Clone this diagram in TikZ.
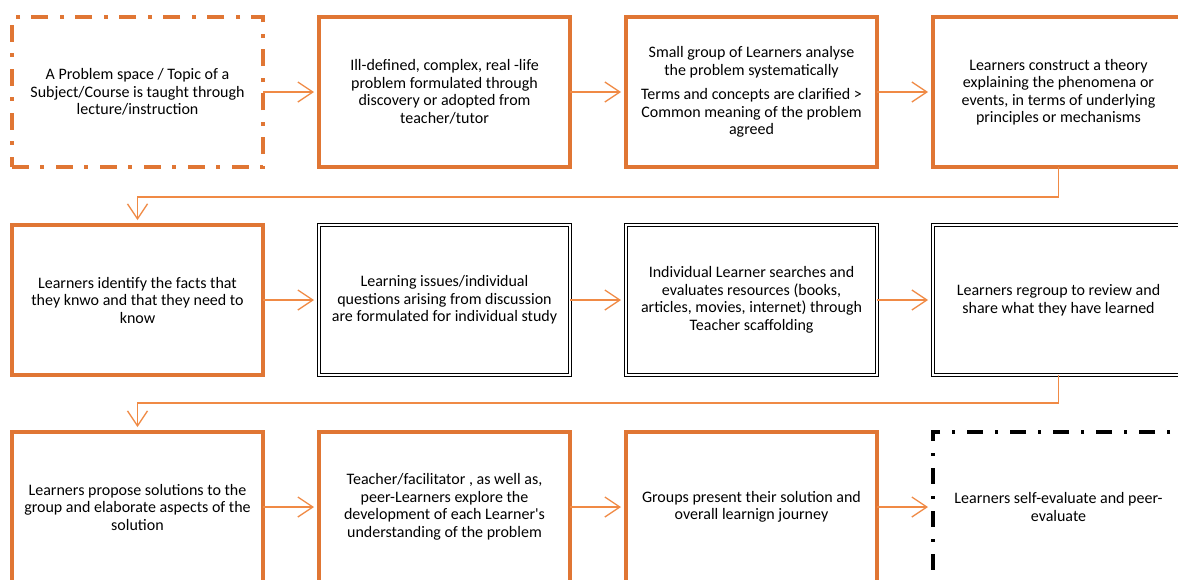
\documentclass[tikz,border=0pt]{standalone}
\usepackage{fontspec}
\setmainfont{Carlito}
\usetikzlibrary{arrows.meta}
\definecolor{boxor}{HTML}{E07634}
\definecolor{arror}{HTML}{F08A45}
\begin{document}
\begin{tikzpicture}[x=1pt,y=-1pt,
  every node/.style={font=\fontsize{16}{17.5}\selectfont, align=center, text=black},
  box/.style={minimum width=251pt, minimum height=150pt, inner sep=0pt, outer sep=0pt},
  orbox/.style={box, draw=boxor, line width=4pt},
  dbox/.style={box, draw=black, line width=1.1pt, double=white, double distance=1.6pt},
  ddor/.style={box, draw=boxor, line width=4pt, dash pattern=on 17pt off 11pt on 4pt off 12pt},
  ddbk/.style={box, draw=black, line width=3.5pt, dash pattern=on 16pt off 12pt on 3pt off 12pt},
  conn/.style={draw=arror, line width=1.3pt, -{Straight Barb[length=15pt,width=20pt,line width=1.3pt]}, shorten >=5pt}
]
\clip (0,0) rectangle (1178,579);
\fill[white] (0,0) rectangle (1178,579);

% Row 1
\node[ddor]  (b1) at (137.5,92) {A Problem space / Topic of a\\Subject/Course is taught through\\lecture/instruction};
\node[orbox] (b2) at (444.5,92) {Ill-defined, complex, real -life\\problem formulated through\\discovery or adopted from\\teacher/tutor};
\node[orbox] (b3) at (751.5,92) {Small group of Learners analyse\\the problem systematically\\[7pt]Terms and concepts are clarified >\\Common meaning of the problem\\agreed};
\node[orbox] (b4) at (1058.5,92) {Learners construct a theory\\explaining the phenomena or\\events, in terms of underlying\\principles or mechanisms};

% Row 2
\node[orbox] (b5) at (137.5,300) {Learners identify the facts that\\they knwo and that they need to\\know};
\node[dbox]  (b6) at (444.5,300) {Learning issues/individual\\questions arising from discussion\\are formulated for individual study};
\node[dbox]  (b7) at (751.5,300) {Individual Learner searches and\\evaluates resources (books,\\articles, movies, internet) through\\Teacher scaffolding};
\node[dbox]  (b8) at (1058.5,300) {Learners regroup to review and\\share what they have learned};

% Row 3
\node[orbox] (b9)  at (137.5,507) {Learners propose solutions to the\\group and elaborate aspects of the\\solution};
\node[orbox] (b10) at (444.5,507) {Teacher/facilitator , as well as,\\peer-Learners explore the\\development of each Learner\textquotesingle s\\understanding of the problem};
\node[orbox] (b11) at (751.5,507) {Groups present their solution and\\overall learnign journey};
\node[ddbk]  (b12) at (1058.5,507) {Learners self-evaluate and peer-\\evaluate};

% Connectors
\draw[conn] (b1.east) -- (b2.west);
\draw[conn] (b2.east) -- (b3.west);
\draw[conn] (b3.east) -- (b4.west);
\coordinate (k1) at (1058.5,197);
\draw[conn] (b4.south) -- (k1) -| (b5.north);
\draw[conn] (b5.east) -- (b6.west);
\draw[conn] (b6.east) -- (b7.west);
\draw[conn] (b7.east) -- (b8.west);
\coordinate (k2) at (1058.5,403);
\draw[conn] (b8.south) -- (k2) -| (b9.north);
\draw[conn] (b9.east) -- (b10.west);
\draw[conn] (b10.east) -- (b11.west);
\draw[conn] (b11.east) -- (b12.west);
\end{tikzpicture}
\end{document}
